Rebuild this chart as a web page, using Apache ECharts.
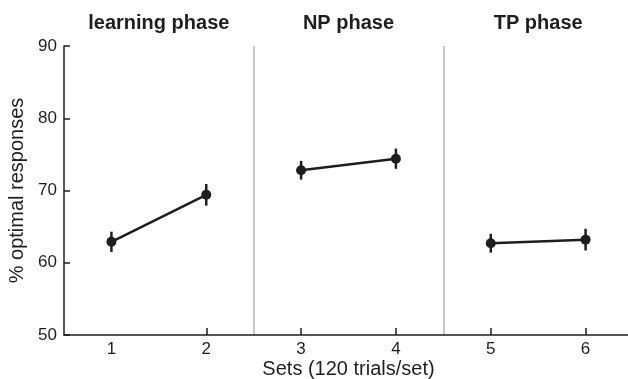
<!DOCTYPE html>
<html>
<head>
<meta charset="utf-8">
<script src="https://cdn.jsdelivr.net/npm/echarts@6/dist/echarts.min.js"></script>
<style>
  html, body { margin: 0; padding: 0; background: #fff; }
  #chart { width: 628px; height: 379px; }
</style>
</head>
<body>
<div id="chart"></div>
<script>
// sets on the x axis
var sets = ['1', '2', '3', '4', '5', '6']
var phases = ['learning phase', 'NP phase', 'TP phase']
// mean % optimal responses per set, and the error bar half-length
var means = [62.9, 69.4, 72.8, 74.4, 62.7, 63.2]
var errors = [1.4, 1.5, 1.3, 1.4, 1.3, 1.5]
var yTicks = [50, 60, 70, 80, 90]

var ink = '#1e1e1e'
var font = 'Liberation Sans, Arial, sans-serif'

// one line per phase, two sets each
function phaseData (p) {
    return means.map(function (v, i) {
        return Math.floor(i / 2) === p ? v : '-'
    })
}

var series = []
for (let p = 0; p < phases.length; p++) {
    series.push({
        type: 'line',
        data: phaseData(p),
        symbol: 'circle',
        symbolSize: 10,
        lineStyle: { color: ink, width: 2.5 },
        itemStyle: { color: ink },
        connectNulls: false,
        animation: false,
        z: 3
    })
}

series.push({
    type: 'custom',
    animation: false,
    data: means.map(function (v, i) { return [i, v - errors[i], v + errors[i]] }),
    renderItem: function (params, api) {
        var lo = api.coord([api.value(0), api.value(1)])
        var hi = api.coord([api.value(0), api.value(2)])
        return {
            type: 'line',
            shape: { x1: lo[0], y1: lo[1], x2: hi[0], y2: hi[1] },
            style: { stroke: ink, lineWidth: 2.5 }
        }
    },
    z: 2
})

var chart = echarts.init(document.getElementById('chart'))
chart.setOption({
    animation: false,
    grid: { left: 64, right: -5, top: 46, bottom: 44, outerBoundsMode: 'none', containLabel: false },
    xAxis: [{
        type: 'category',
        data: sets,
        boundaryGap: true,
        name: 'Sets (120 trials/set)',
        nameLocation: 'middle',
        nameGap: 24,
        nameMoveOverlap: false,
        nameTextStyle: { color: ink, fontSize: 20, fontFamily: font },
        axisLine: { lineStyle: { color: ink, width: 1.5 } },
        axisTick: {
            show: true,
            inside: true,
            length: 7,
            alignWithLabel: true,
            interval: function (i) { return i > 0 },
            lineStyle: { color: ink, width: 1.5 }
        },
        axisLabel: { color: ink, fontSize: 17, fontFamily: font, margin: 6 },
        splitLine: {
            show: true,
            interval: function (i) { return i === 2 || i === 4 },
            lineStyle: { color: '#c8c8c8', width: 2 }
        }
    }, {
        type: 'category',
        position: 'top',
        data: phases,
        boundaryGap: true,
        axisLine: { show: false },
        axisTick: { show: false },
        axisLabel: { color: ink, fontSize: 20, fontWeight: 'bold', fontFamily: font, margin: 13 },
        splitLine: { show: false }
    }],
    yAxis: {
        type: 'value',
        min: yTicks[0],
        max: yTicks[yTicks.length - 1],
        interval: 10,
        name: '% optimal responses',
        nameLocation: 'middle',
        nameGap: 37,
        nameMoveOverlap: false,
        nameTextStyle: { color: ink, fontSize: 20, fontFamily: font },
        axisLine: { show: true, lineStyle: { color: ink, width: 1.5 } },
        axisTick: { show: true, inside: true, length: 6, lineStyle: { color: ink, width: 1.5 } },
        axisLabel: { color: ink, fontSize: 17, fontFamily: font, margin: 7 },
        splitLine: { show: false }
    },
    series: series
})
</script>
</body>
</html>
